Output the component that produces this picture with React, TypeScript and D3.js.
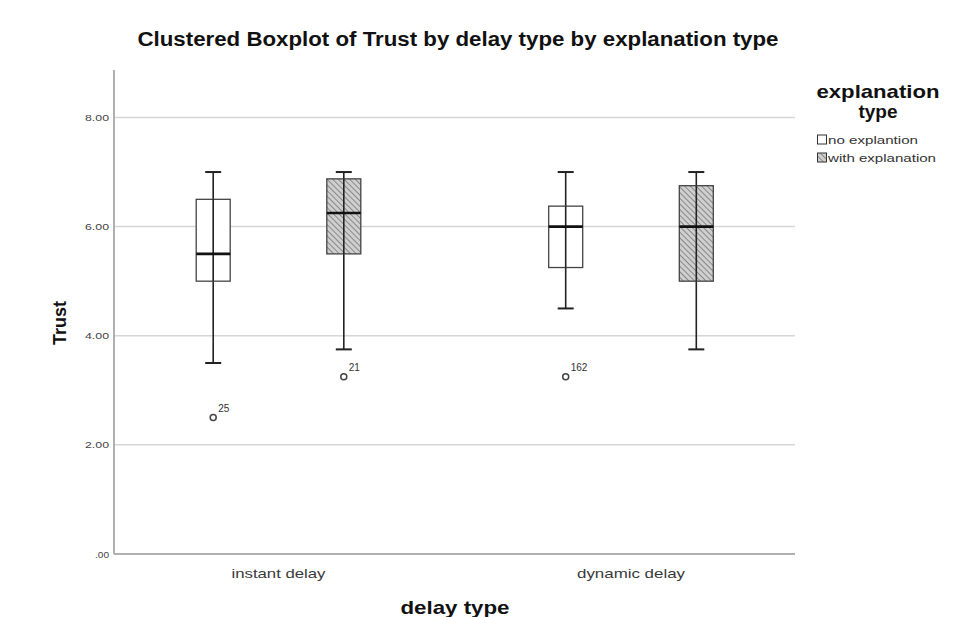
import React from "react";
import * as d3 from "d3";

const groups = ["instant delay", "dynamic delay"];
const seriesNames = ["no explantion", "with explanation"];
// [group][series] five-number summaries
const whiskerLow = [[3.5, 3.75], [4.5, 3.75]];
const q1 = [[5.0, 5.5], [5.25, 5.0]];
const medians = [[5.5, 6.25], [6.0, 6.0]];
const q3 = [[6.5, 6.875], [6.375, 6.75]];
const whiskerHigh = [[7.0, 7.0], [7.0, 7.0]];
const outlierGroup = [0, 0, 1];
const outlierSeries = [0, 1, 0];
const outlierValues = [2.5, 3.25, 3.25];
const outlierLabels = ["25", "21", "162"];
const yTicks = [0, 2, 4, 6, 8];
const yTickLabels = [".00", "2.00", "4.00", "6.00", "8.00"];

const W = 972;
const H = 617;
const left = 114, right = 795, top = 70, bottom = 554;

export default function App() {
  const y = d3.scaleLinear().domain([0, 8.87]).range([bottom, top]);
  const x = d3.scalePoint<string>().domain(groups).range([278.5, 631]);
  const sub = d3.scalePoint<string>().domain(seriesNames).range([-65.3, 65.3]);
  const boxW = 34;
  const capW = 16;
  const font = "'Liberation Sans', Arial, sans-serif";

  const boxes: any[] = [];
  groups.forEach((g, gi) => {
    seriesNames.forEach((s, si) => {
      boxes.push({ g, s, gi, si, cx: (x(g) as number) + (sub(s) as number) });
    });
  });

  return (
    <svg width={W} height={H} style={{ position: "absolute", left: 0, top: 0, background: "#fff" }} fontFamily={font}>
      <defs>
        <pattern id="hatch" patternUnits="userSpaceOnUse" width={4} height={4} patternTransform="rotate(-45)">
          <rect width={4} height={4} fill="#cfcfcf" />
          <line x1={0} y1={0} x2={0} y2={4} stroke="#6a6a6a" strokeWidth={1.4} />
        </pattern>
      </defs>
      <text x={458} y={46} textAnchor="middle" fontWeight="bold" fontSize={20} fill="#111" textLength={641} lengthAdjust="spacingAndGlyphs">
        Clustered Boxplot of Trust by delay type by explanation type
      </text>

      {/* gridlines */}
      {yTicks.filter((t) => t > 0).map((t) => (
        <line key={t} x1={left} x2={right} y1={y(t)} y2={y(t)} stroke="#d6d6d6" strokeWidth={1.5} />
      ))}
      {/* axes */}
      <line x1={left} x2={left} y1={top} y2={bottom} stroke="#b0b0b0" strokeWidth={2} />
      <line x1={left} x2={right} y1={bottom} y2={bottom} stroke="#b0b0b0" strokeWidth={2} />
      {yTicks.map((t, i) => (
        <text key={t} x={109} y={y(t) + 3.5} textAnchor="end" fontSize={9} fill="#444"
          textLength={yTickLabels[i].length === 3 ? 14 : 24} lengthAdjust="spacingAndGlyphs">
          {yTickLabels[i]}
        </text>
      ))}
      <text transform={`translate(66,323) rotate(-90)`} textAnchor="middle" fontWeight="bold" fontSize={18} fill="#111">
        Trust
      </text>
      {groups.map((g, i) => (
        <text key={g} x={x(g)} y={578} textAnchor="middle" fontSize={13} fill="#3a3a3a"
          textLength={i === 0 ? 94 : 108} lengthAdjust="spacingAndGlyphs">
          {g}
        </text>
      ))}
      <text x={455} y={614} textAnchor="middle" fontWeight="bold" fontSize={19} fill="#111" textLength={109} lengthAdjust="spacingAndGlyphs">
        delay type
      </text>

      {/* boxes */}
      {boxes.map((b) => (
        <g key={b.g + b.s}>
          <line x1={b.cx} x2={b.cx} y1={y(whiskerHigh[b.gi][b.si])} y2={y(whiskerLow[b.gi][b.si])} stroke="#222" strokeWidth={1.6} />
          <line x1={b.cx - capW / 2} x2={b.cx + capW / 2} y1={y(whiskerHigh[b.gi][b.si])} y2={y(whiskerHigh[b.gi][b.si])} stroke="#222" strokeWidth={2} />
          <line x1={b.cx - capW / 2} x2={b.cx + capW / 2} y1={y(whiskerLow[b.gi][b.si])} y2={y(whiskerLow[b.gi][b.si])} stroke="#222" strokeWidth={2} />
          <rect x={b.cx - boxW / 2} width={boxW} y={y(q3[b.gi][b.si])} height={y(q1[b.gi][b.si]) - y(q3[b.gi][b.si])}
            fill={b.si === 0 ? "#fff" : "url(#hatch)"} stroke="#444" strokeWidth={1.3} />
          <line x1={b.cx} x2={b.cx} y1={y(q3[b.gi][b.si])} y2={y(q1[b.gi][b.si])} stroke="#222" strokeWidth={1.6} />
          <line x1={b.cx - boxW / 2} x2={b.cx + boxW / 2} y1={y(medians[b.gi][b.si])} y2={y(medians[b.gi][b.si])} stroke="#111" strokeWidth={2.6} />
        </g>
      ))}
      {outlierValues.map((v, i) => {
        const cx = (x(groups[outlierGroup[i]]) as number) + (sub(seriesNames[outlierSeries[i]]) as number);
        return (
          <g key={i}>
            <circle cx={cx} cy={y(v)} r={3} fill="#fff" stroke="#444" strokeWidth={1.5} />
            <text x={cx + 5} y={y(v) - 6} fontSize={10} fill="#333">{outlierLabels[i]}</text>
          </g>
        );
      })}

      {/* legend */}
      <text x={878} y={98} textAnchor="middle" fontWeight="bold" fontSize={19} fill="#111" textLength={123} lengthAdjust="spacingAndGlyphs">explanation</text>
      <text x={878} y={118} textAnchor="middle" fontWeight="bold" fontSize={19} fill="#111">type</text>
      {seriesNames.map((s, i) => (
        <g key={s}>
          <rect x={817.5} y={135} width={9} height={9} transform={`translate(0,${i * 18})`} fill={i === 0 ? "#fff" : "url(#hatch)"} stroke="#333" strokeWidth={1} />
          <text x={828} y={144 + i * 18} fontSize={11} fill="#333" textLength={i === 0 ? 90 : 108} lengthAdjust="spacingAndGlyphs">{s}</text>
        </g>
      ))}
    </svg>
  );
}
